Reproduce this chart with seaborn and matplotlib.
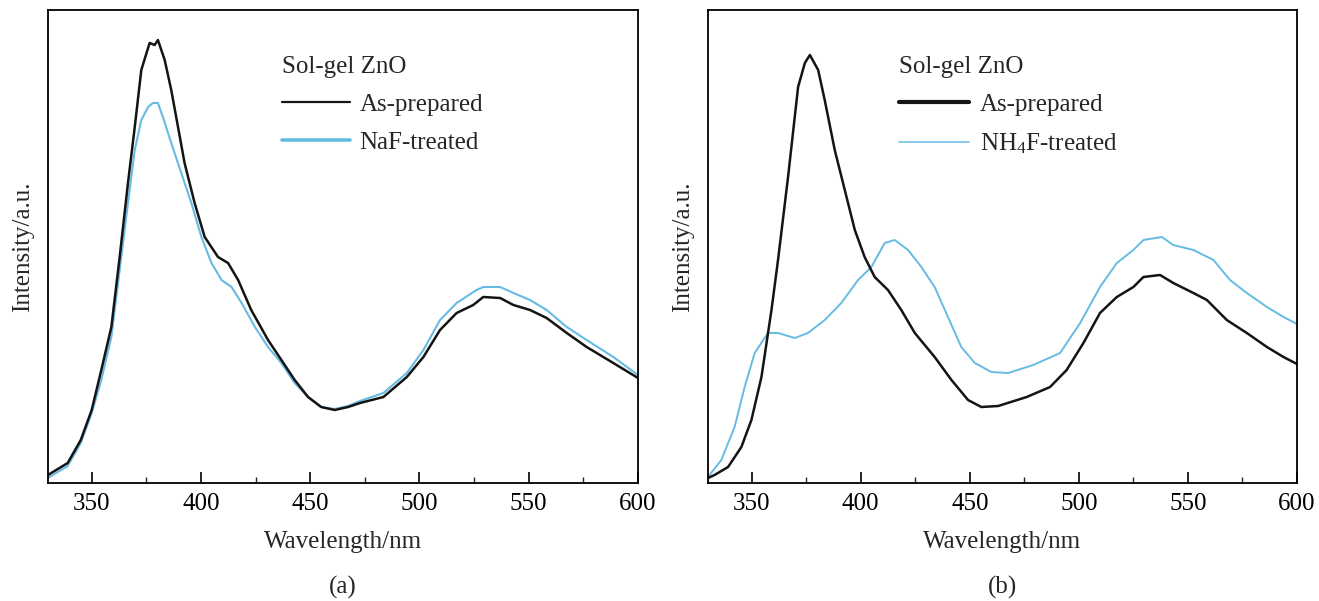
import numpy as np
import pandas as pd
import seaborn as sns
import matplotlib
matplotlib.use("Agg")
import matplotlib.pyplot as plt
from matplotlib.lines import Line2D
from matplotlib.ticker import MultipleLocator

# ---------------- data (a) ----------------
a_black_wl = [330, 339, 345, 350, 354.4, 359, 362.8, 366.6, 369.7, 372.7, 376.5, 378.8, 380.3, 383.4,
              386.4, 389.5, 392.5, 397.1, 401.7, 407.8, 412.4, 417, 423, 430.7, 436.8, 442.9, 449, 455,
              461.2, 467.3, 472.8, 483.5, 494.2, 501.8, 509.4, 517, 524.6, 529.2, 536.9, 543, 550.6,
              558.2, 567.4, 576.5, 588.7, 600]
a_black_int = [8, 20, 43, 73, 113, 156, 226, 300, 356, 413, 440, 438, 443, 423,
               393, 356, 320, 280, 246, 226, 220, 203, 173, 143, 123, 103, 86, 76,
               73, 76, 80, 86, 106, 126, 153, 170, 178, 186, 185, 178, 173,
               165, 150, 136, 120, 105]
a_blue_wl = [330, 339, 345, 350, 354.4, 359, 362.8, 366.6, 369.7, 372.7, 375.8, 378, 380.3, 382.6,
             386.4, 391, 395.6, 400.2, 404.8, 409.4, 414, 418.6, 424.7, 430.7, 436.8, 442.9, 449, 455,
             461.2, 467.3, 472.8, 483.5, 494.2, 501.8, 509.4, 517, 526.1, 529.2, 536.9, 543, 550.6,
             558.2, 567.4, 576.5, 588.7, 600]
a_blue_int = [5, 17, 40, 70, 103, 146, 213, 280, 333, 363, 376, 380, 380, 366,
              340, 310, 280, 246, 220, 203, 196, 180, 156, 136, 120, 100, 86, 76,
              74, 77, 82, 90, 110, 133, 163, 180, 193, 196, 196, 190, 183,
              173, 156, 143, 126, 108]

# ---------------- data (b) ----------------
b_black_wl = [330, 333, 339.2, 345.3, 349.9, 354.5, 359.1, 362.1, 366.7, 371.3, 374.4, 376.7, 380.5,
              383.5, 388.1, 392.7, 397.3, 401.8, 406.4, 412.5, 418.6, 424.8, 433.9, 441.6, 449.2,
              455.3, 463, 476.1, 486.8, 494.4, 502.1, 509.7, 517.4, 525, 529.6, 537.2, 543.3,
              552.5, 558.7, 567.8, 577, 586.2, 593.8, 600]
b_black_int = [5, 8, 16, 36, 63, 106, 173, 223, 306, 396, 420, 428, 413,
               383, 333, 293, 253, 226, 206, 193, 173, 150, 126, 103, 83,
               76, 77, 86, 96, 113, 140, 170, 186, 196, 206, 208, 200,
               190, 183, 163, 150, 136, 126, 119]
b_blue_wl = [330, 336.1, 342.2, 346.8, 351.4, 357.5, 362.1, 369.8, 375.8, 383.5, 391.1, 398.8, 404.9,
             411, 415.6, 421.7, 427.8, 433.9, 440, 446.1, 452.3, 459.9, 467.6, 479.1, 491.4, 500.6,
             509.7, 517.4, 525, 529.6, 538, 543.3, 552.5, 561.7, 569.3, 577, 586.2, 593.8, 600]
b_blue_int = [6, 23, 56, 96, 130, 150, 150, 145, 150, 163, 180, 203, 216,
              240, 243, 233, 216, 196, 166, 136, 120, 111, 110, 118, 130, 160,
              196, 220, 233, 243, 246, 238, 233, 223, 203, 190, 176, 166, 159]

xticks_major = [350, 400, 450, 500, 550, 600]
legend_title = "Sol-gel ZnO"
a_labels = ["As-prepared", "NaF-treated"]
b_labels = ["As-prepared", "NH$_4$F-treated"]
panel_tags = ["(a)", "(b)"]

# ---------------- style ----------------
sns.set_theme(style="white")
plt.rcParams["font.family"] = ["Liberation Serif", "DejaVu Serif"]
plt.rcParams["mathtext.fontset"] = "custom"
plt.rcParams["mathtext.rm"] = "Liberation Serif"
plt.rcParams["mathtext.it"] = "Liberation Serif:italic"

BLACK = "#141414"
BLUE = "#66bbe3"
FS = 18

W, H = 1319, 601
fig = plt.figure(figsize=(W / 100, H / 100), dpi=100)
axA = fig.add_axes([48 / W, 1 - 483 / H, 590 / W, 473 / H])
axB = fig.add_axes([708 / W, 1 - 483 / H, 589 / W, 473 / H])

dfA = pd.concat([
    pd.DataFrame({"wl": a_black_wl, "I": a_black_int, "s": a_labels[0]}),
    pd.DataFrame({"wl": a_blue_wl, "I": a_blue_int, "s": a_labels[1]}),
])
dfB = pd.concat([
    pd.DataFrame({"wl": b_black_wl, "I": b_black_int, "s": b_labels[0]}),
    pd.DataFrame({"wl": b_blue_wl, "I": b_blue_int, "s": b_labels[1]}),
])

sns.lineplot(data=dfA[dfA.s == a_labels[1]], x="wl", y="I", color=BLUE, lw=1.5, ax=axA, legend=False)
sns.lineplot(data=dfA[dfA.s == a_labels[0]], x="wl", y="I", color=BLACK, lw=1.8, ax=axA, legend=False)
sns.lineplot(data=dfB[dfB.s == b_labels[1]], x="wl", y="I", color=BLUE, lw=1.4, ax=axB, legend=False)
sns.lineplot(data=dfB[dfB.s == b_labels[0]], x="wl", y="I", color=BLACK, lw=1.8, ax=axB, legend=False)

configs = [
    (axA, a_labels, (1.6, 2.6), panel_tags[0], (282 - 48) / 590, 2.7, 0.4),
    (axB, b_labels, (3.0, 1.1), panel_tags[1], (899 - 708) / 589, 2.8, 0.45),
]
for ax, labels, lws, tag, legx, hl, htp in configs:
    ax.set_xlim(330, 600)
    ax.set_ylim(0, 473)
    ax.set_xticks(xticks_major)
    ax.xaxis.set_minor_locator(MultipleLocator(25))
    ax.set_yticks([])
    ax.tick_params(axis="x", which="major", direction="in", length=8, width=1.2,
                   labelsize=FS, pad=7, colors="black", bottom=True, top=False)
    ax.tick_params(axis="x", which="minor", direction="in", length=4, width=1.0, bottom=True, top=False)
    for sp in ax.spines.values():
        sp.set_visible(True)
        sp.set_color("black")
        sp.set_linewidth(1.3)
    ax.set_xlabel("Wavelength/nm", fontsize=FS, labelpad=12)
    ax.set_ylabel("Intensity/a.u.", fontsize=FS, labelpad=10)
    handles = [Line2D([], [], color=BLACK, lw=lws[0]), Line2D([], [], color=BLUE, lw=lws[1])]
    ax.legend(handles, labels, title=legend_title, frameon=False, fontsize=FS,
              title_fontsize=FS, loc="upper left", bbox_to_anchor=(legx, (483 - 56) / 473),
              borderpad=0, borderaxespad=0,
              handlelength=hl, handletextpad=htp, labelspacing=0.62, alignment="left")
    # panel tag centred under the axes
    pos = ax.get_position()
    fig.text((pos.x0 + pos.x1) / 2, 1 - 587 / H, tag, ha="center", va="center", fontsize=FS)

fig.savefig("out.png", dpi=100, facecolor="white")
